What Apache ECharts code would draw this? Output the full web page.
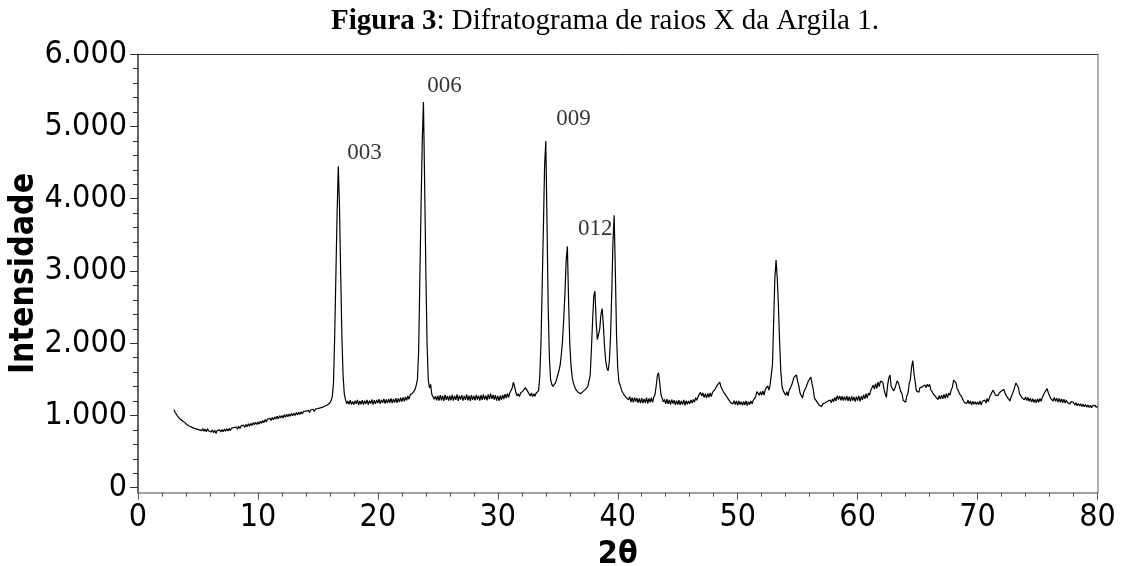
<!DOCTYPE html>
<html><head><meta charset="utf-8">
<script src="https://cdn.jsdelivr.net/npm/echarts@6/dist/echarts.min.js"></script>
<style>html,body{margin:0;padding:0;background:#fff}#c{width:1122px;height:566px}</style>
</head><body><div id="c"></div>
<script>
// 2θ sampling: rows of one degree each, 0.1° per value, first row starts at 3.0°
const firstDegree = 3;
const degreeStep = 0.1;
const intensityRows = [
  [1080,1040,1035,990,1000,950,965,925,940,900],       // 3
  [915,870,895,850,870,835,860,820,845,810],           // 4
  [835,800,825,790,820,780,810,775,815,785],           // 5
  [805,770,800,760,795,750,790,765,800,770],           // 6
  [805,775,810,780,815,785,820,790,825,800],           // 7
  [830,805,840,810,850,820,855,830,865,835],           // 8
  [875,845,885,850,890,860,900,870,905,875],           // 9
  [910,880,920,890,930,900,945,910,950,925],           // 10
  [960,930,970,940,980,950,990,955,995,965],           // 11
  [1000,965,1010,975,1015,980,1020,990,1025,995],      // 12
  [1030,1000,1040,1005,1045,1015,1050,1020,1055,1030], // 13
  [1060,1035,1070,1040,1075,1050,1085,1055,1090,1065], // 14
  [1095,1070,1105,1080,1115,1095,1130,1110,1145,1150], // 15
  [1175,1205,1260,1450,2100,2950,3800,4450,3900,2950], // 16
  [2100,1550,1300,1220,1160,1200,1155,1210,1150,1195], // 17
  [1150,1205,1160,1215,1145,1200,1155,1210,1150,1205], // 18
  [1160,1215,1150,1205,1165,1220,1150,1210,1160,1215], // 19
  [1170,1225,1160,1215,1175,1230,1165,1220,1170,1230], // 20
  [1175,1235,1170,1225,1180,1240,1175,1235,1185,1245], // 21
  [1190,1250,1195,1255,1210,1270,1225,1285,1260,1310], // 22
  [1320,1360,1420,1500,1900,2900,3900,4800,5340,4200], // 23
  [3000,2000,1500,1380,1430,1290,1270,1225,1265,1210], // 24
  [1270,1205,1280,1210,1275,1200,1285,1215,1270,1205], // 25
  [1275,1210,1285,1205,1270,1215,1290,1200,1275,1220], // 26
  [1280,1205,1270,1215,1290,1210,1275,1200,1280,1215], // 27
  [1270,1210,1285,1220,1275,1205,1280,1215,1290,1220], // 28
  [1275,1210,1290,1225,1300,1230,1285,1220,1280,1205], // 29
  [1270,1200,1275,1215,1285,1225,1295,1240,1305,1250], // 30
  [1310,1300,1380,1460,1400,1320,1270,1300,1260,1310], // 31
  [1290,1340,1350,1385,1370,1330,1300,1270,1310,1260], // 32
  [1300,1265,1310,1290,1340,1550,2000,2800,3600,4450], // 33
  [4800,3700,2500,1800,1500,1430,1400,1420,1450,1500], // 34
  [1560,1620,1700,1850,2050,2350,2700,3150,3340,2600], // 35
  [2000,1700,1530,1450,1400,1360,1340,1320,1310,1300], // 36
  [1320,1330,1340,1360,1380,1400,1420,1550,1900,2300], // 37
  [2650,2720,2300,2050,2050,2200,2400,2480,2250,1950], // 38
  [1750,1650,1620,1750,2100,2700,3400,3770,3000,2100], // 39
  [1650,1460,1420,1360,1320,1290,1270,1250,1230,1215], // 40
  [1260,1185,1245,1180,1250,1190,1240,1175,1235,1170], // 41
  [1240,1170,1230,1175,1245,1165,1235,1180,1245,1180], // 42
  [1250,1285,1400,1550,1590,1450,1290,1240,1190,1220], // 43
  [1160,1225,1160,1215,1150,1220,1165,1210,1145,1205], // 44
  [1150,1210,1145,1200,1150,1215,1140,1205,1155,1200], // 45
  [1160,1215,1170,1220,1185,1245,1210,1260,1265,1320], // 46
  [1270,1310,1250,1300,1240,1305,1250,1310,1260,1320], // 47
  [1300,1360,1350,1420,1400,1460,1400,1410,1330,1340], // 48
  [1280,1300,1230,1250,1180,1200,1160,1205,1150,1200], // 49
  [1140,1200,1150,1190,1140,1195,1145,1200,1135,1190], // 50
  [1150,1200,1160,1210,1190,1260,1330,1340,1280,1330], // 51
  [1280,1340,1280,1360,1340,1410,1350,1420,1410,1700], // 52
  [2300,2900,3150,2900,2500,2000,1600,1400,1340,1320], // 53
  [1280,1330,1270,1350,1340,1420,1430,1530,1530,1560], // 54
  [1470,1410,1310,1300,1240,1320,1310,1390,1400,1480], // 55
  [1500,1530,1440,1360,1240,1230,1190,1195,1140,1165], // 56
  [1125,1160,1140,1175,1150,1195,1170,1215,1175,1230], // 57
  [1190,1250,1200,1275,1220,1270,1210,1265,1205,1260], // 58
  [1210,1270,1200,1260,1195,1265,1205,1255,1190,1260], // 59
  [1205,1270,1195,1265,1215,1285,1230,1300,1240,1310], // 60
  [1280,1350,1350,1420,1365,1440,1375,1460,1400,1475], // 61
  [1450,1460,1360,1300,1250,1420,1520,1560,1400,1380], // 62
  [1340,1370,1380,1480,1450,1440,1330,1300,1210,1215], // 63
  [1180,1270,1310,1440,1500,1670,1760,1580,1460,1340], // 64
  [1350,1320,1385,1360,1395,1380,1420,1385,1430,1400], // 65
  [1430,1360,1370,1300,1320,1260,1280,1220,1275,1225], // 66
  [1280,1230,1290,1235,1300,1245,1310,1280,1350,1390], // 67
  [1490,1500,1450,1370,1340,1300,1300,1250,1210,1180], // 68
  [1200,1165,1210,1160,1200,1145,1195,1155,1190,1150], // 69
  [1185,1150,1200,1145,1195,1180,1215,1170,1235,1190], // 70
  [1250,1240,1320,1350,1340,1280,1300,1275,1310,1285], // 71
  [1340,1320,1360,1305,1300,1245,1245,1200,1255,1265], // 72
  [1340,1365,1450,1470,1390,1300,1295,1245,1265,1215], // 73
  [1255,1205,1250,1195,1240,1185,1230,1180,1220,1175], // 74
  [1230,1180,1235,1195,1250,1245,1320,1335,1370,1310], // 75
  [1300,1235,1250,1200,1250,1195,1240,1185,1235,1180], // 76
  [1230,1175,1225,1170,1215,1175,1200,1160,1190,1165], // 77
  [1180,1145,1175,1135,1165,1130,1160,1125,1155,1120], // 78
  [1150,1115,1145,1110,1140,1105,1135,1110,1140,1110], // 79
  [1130]                                               // 80
];
const xTickLabels = ['0','10','20','30','40','50','60','70','80'];
const yMajorTicks = [0,1000,2000,3000,4000,5000,6000];
const yTickLabels = ['0','1.000','2.000','3.000','4.000','5.000','6.000'];
const yMinorTicks = [200,400,600,800,1200,1400,1600,1800,2200,2400,2600,2800,3200,3400,3600,3800,4200,4400,4600,4800,5200,5400,5600,5800];
const peakNames = ['003','006','009','012'];
const peakLabelX = [17.45, 24.12, 34.88, 36.68];
const peakLabelY = [4640, 5560, 5105, 3585];

const curve = [];
intensityRows.forEach((row, r) => {
  row.forEach((v, i) => {
    curve.push([+(firstDegree + r + i * degreeStep).toFixed(1), v]);
  });
});
const peakData = peakNames.map((n, i) => ({ value: [peakLabelX[i], peakLabelY[i]], name: n }));

const tickFont = '"DejaVu Sans Condensed", "DejaVu Sans", sans-serif';
const serifFont = '"Liberation Serif", "Times New Roman", serif';
const chart = echarts.init(document.getElementById('c'), null, { renderer: 'canvas' });
chart.setOption({
  animation: false,
  backgroundColor: '#fff',
  title: {
    text: '{b|Figura 3}: Difratograma de raios X da Argila 1.',
    left: 326, top: 2,
    textStyle: {
      fontFamily: serifFont, fontSize: 29, fontWeight: 'normal', color: '#000',
      rich: { b: { fontFamily: serifFont, fontSize: 29, fontWeight: 'bold', color: '#000' } }
    }
  },
  grid: { left: 138, right: 24.5, top: 54.3, bottom: 73.3, containLabel: false, outerBoundsMode: 'none' },
  xAxis: [
    {
      type: 'value', min: 0, max: 80, interval: 10, position: 'bottom',
      name: '2θ', nameLocation: 'middle', nameGap: 46, nameMoveOverlap: false,
      nameTextStyle: { fontFamily: tickFont, fontSize: 32, fontWeight: 'bold', color: '#000' },
      axisLine: { show: true, onZero: false, lineStyle: { color: '#808080', width: 1.5 } },
      axisTick: { show: true, length: 7, lineStyle: { color: '#555', width: 1 } },
      minorTick: { show: true, splitNumber: 5, length: 4, lineStyle: { color: '#555', width: 1 } },
      splitLine: { show: false },
      axisLabel: {
        margin: 9, fontFamily: tickFont, fontSize: 32, color: '#000',
        formatter: v => xTickLabels[Math.round(v / 10)]
      }
    },
    {
      type: 'value', min: 0, max: 80, position: 'top',
      axisLine: { show: true, onZero: false, lineStyle: { color: '#333', width: 1 } },
      axisTick: { show: false }, axisLabel: { show: false }, splitLine: { show: false }
    }
  ],
  yAxis: [
    {
      type: 'value', min: -70, max: 6000, position: 'left',
      name: 'Intensidade', nameLocation: 'middle', nameGap: 97, nameRotate: 90, nameMoveOverlap: false,
      nameTextStyle: { fontFamily: tickFont, fontSize: 33.5, fontWeight: 'bold', color: '#000' },
      axisLine: { show: true, onZero: false, lineStyle: { color: '#333', width: 1.5 } },
      axisTick: { show: true, length: 8, customValues: yMajorTicks, lineStyle: { color: '#333', width: 1 } },
      splitLine: { show: false },
      axisLabel: {
        margin: 11, fontFamily: tickFont, fontSize: 32, color: '#000',
        customValues: yMajorTicks,
        formatter: v => yTickLabels[Math.round(v / 1000)]
      }
    },
    {
      type: 'value', min: -70, max: 6000, position: 'left',
      axisLine: { show: false },
      axisTick: { show: true, length: 5, customValues: yMinorTicks, lineStyle: { color: '#333', width: 1 } },
      axisLabel: { show: false }, splitLine: { show: false }
    },
    {
      type: 'value', min: -70, max: 6000, position: 'right',
      axisLine: { show: true, onZero: false, lineStyle: { color: '#999', width: 1.5 } },
      axisTick: { show: false }, axisLabel: { show: false }, splitLine: { show: false }
    }
  ],
  series: [
    {
      type: 'line', data: curve, xAxisIndex: 0, yAxisIndex: 0,
      showSymbol: false, symbol: 'none', sampling: null,
      lineStyle: { color: '#000', width: 1.2 }, silent: true
    },
    {
      type: 'scatter', data: peakData, xAxisIndex: 0, yAxisIndex: 0,
      symbolSize: 0, silent: true,
      label: {
        show: true, position: 'right', distance: 0, formatter: p => p.name,
        fontFamily: serifFont, fontSize: 23, color: '#000',
        align: 'left', verticalAlign: 'middle'
      }
    }
  ]
});
</script>
</body></html>
